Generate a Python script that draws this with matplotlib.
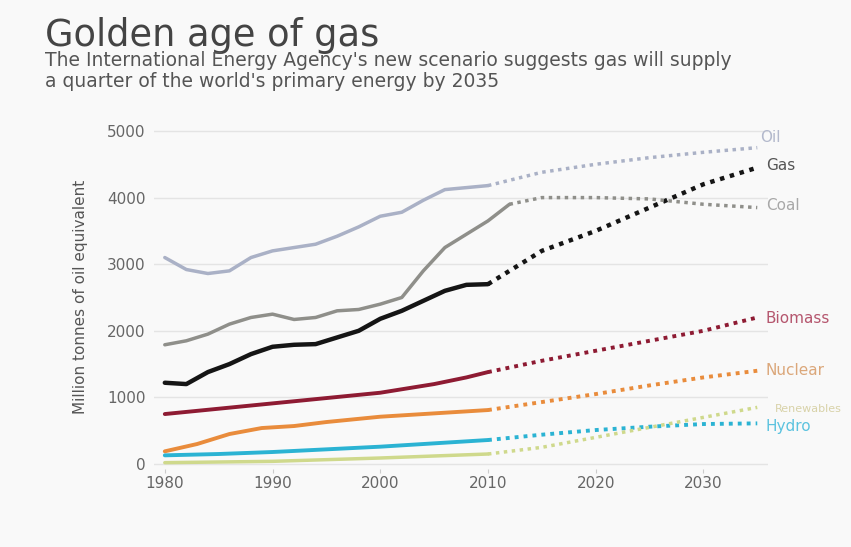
import matplotlib
matplotlib.use("Agg")
import matplotlib.pyplot as plt

# historical series (Mtoe)
oil_years = [1980, 1982, 1984, 1986, 1988, 1990, 1992, 1994, 1996, 1998, 2000, 2002, 2004, 2006, 2008, 2010]
oil = [3100, 2920, 2860, 2900, 3100, 3200, 3250, 3300, 3420, 3560, 3720, 3780, 3960, 4120, 4150, 4180]

gas_years = [1980, 1982, 1984, 1986, 1988, 1990, 1992, 1994, 1996, 1998, 2000, 2002, 2004, 2006, 2008, 2010]
gas = [1220, 1200, 1380, 1500, 1650, 1760, 1790, 1800, 1900, 2000, 2180, 2300, 2450, 2600, 2690, 2700]

coal_years = [1980, 1982, 1984, 1986, 1988, 1990, 1992, 1994, 1996, 1998, 2000, 2002, 2004, 2006, 2008, 2010, 2012]
coal = [1790, 1850, 1950, 2100, 2200, 2250, 2170, 2200, 2300, 2320, 2400, 2500, 2900, 3250, 3450, 3650, 3900]

biomass_years = [1980, 1985, 1990, 1995, 2000, 2005, 2008, 2010]
biomass = [750, 830, 910, 990, 1070, 1200, 1300, 1380]

nuclear_years = [1980, 1983, 1986, 1989, 1992, 1995, 2000, 2005, 2010]
nuclear = [190, 300, 450, 540, 570, 630, 710, 760, 810]

hydro_years = [1980, 1985, 1990, 1995, 2000, 2005, 2010]
hydro = [130, 150, 180, 220, 260, 310, 360]

other_years = [1980, 1990, 2000, 2005, 2010]
other = [20, 40, 90, 120, 150]

# projections
proj_years = [2010, 2015, 2020, 2025, 2030, 2035]
oil_proj = [4180, 4380, 4500, 4600, 4680, 4750]
gas_proj = [2700, 3200, 3500, 3850, 4200, 4450]
coal_proj_years = [2012, 2015, 2020, 2025, 2030, 2035]
coal_proj = [3900, 4000, 4000, 3980, 3900, 3850]
biomass_proj = [1380, 1550, 1700, 1850, 2000, 2200]
nuclear_proj = [810, 930, 1050, 1180, 1300, 1400]
hydro_proj = [360, 440, 510, 560, 600, 610]
other_proj = [150, 250, 400, 550, 700, 850]

series = [
    ("Oil", oil_years, oil, oil_proj, "#aab1c6", 2.5),
    ("Gas", gas_years, gas, gas_proj, "#151515", 3.2),
    ("Coal", coal_years, coal, coal_proj, "#8f8f8a", 2.5),
    ("Biomass", biomass_years, biomass, biomass_proj, "#8e1b33", 2.8),
    ("Nuclear", nuclear_years, nuclear, nuclear_proj, "#e98c3c", 2.8),
    ("Hydro", hydro_years, hydro, hydro_proj, "#2bb3d3", 2.8),
    ("Other", other_years, other, other_proj, "#cfd98c", 2.5),
]

labels = ["Oil", "Gas", "Coal", "Biomass", "Nuclear", "Renewables", "Hydro"]
label_vals = [4900, 4480, 3880, 2180, 1400, 830, 560]
label_colors = ["#b3b9cc", "#555555", "#a8a8a8", "#b5566e", "#dba77a", "#d8d2a8", "#5cc3df"]
label_x = [2035.3, 2035.8, 2035.8, 2035.8, 2035.8, 2036.6, 2035.8]
label_sizes = [11, 11, 11, 11, 11, 8, 11]

fig = plt.figure(figsize=(8.51, 5.47), dpi=100, facecolor="#f9f9f9")
ax = fig.add_axes([0.181, 0.142, 0.7215, 0.6307])
ax.set_facecolor("#f9f9f9")

for name, yrs, vals, pvals, color, lw in series:
    ax.plot(yrs, vals, color=color, lw=lw, solid_capstyle="round", zorder=3)
    pyrs = coal_proj_years if name == "Coal" else proj_years
    ax.plot(pyrs, pvals, color=color, lw=lw, ls=(0, (1, 1.3)), zorder=3)

for txt, v, c, x, fs in zip(labels, label_vals, label_colors, label_x, label_sizes):
    ax.text(x, v, txt, color=c, fontsize=fs, va="center", ha="left", clip_on=False)

ax.set_xlim(1979, 2036)
ax.set_ylim(-80, 5100)
ax.set_yticks([0, 1000, 2000, 3000, 4000, 5000])
ax.set_xticks([1980, 1990, 2000, 2010, 2020, 2030])
ax.grid(axis="y", color="#e4e4e4", lw=1)
ax.set_axisbelow(True)
for s in ax.spines.values():
    s.set_visible(False)
ax.tick_params(axis="y", length=0, pad=6, labelsize=11, labelcolor="#666666")
ax.tick_params(axis="x", length=3, color="#cccccc", pad=2, labelsize=11, labelcolor="#666666")
ax.set_ylabel("Million tonnes of oil equivalent", fontsize=11, color="#555555", labelpad=14)

fig.text(0.053, 0.935, "Golden age of gas", fontsize=26.5, color="#444444", va="center")
fig.text(0.053, 0.870,
         "The International Energy Agency's new scenario suggests gas will supply\n"
         "a quarter of the world's primary energy by 2035",
         fontsize=13.5, color="#555555", va="center", linespacing=1.1)

fig.savefig("out.png", dpi=100, facecolor=fig.get_facecolor())
